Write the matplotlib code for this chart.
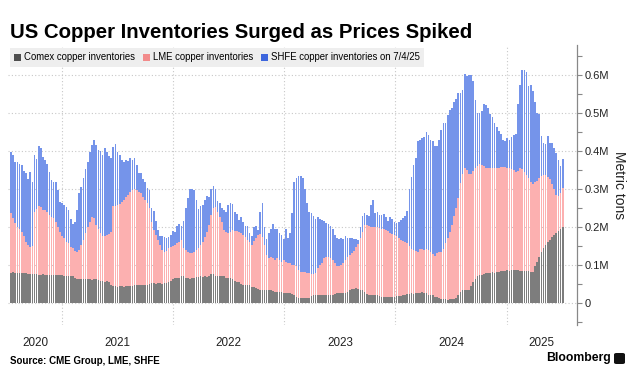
import numpy as np
import pandas as pd
import matplotlib
matplotlib.use("Agg")
import matplotlib.pyplot as plt
import matplotlib.dates as mdates
from matplotlib.patches import Patch, FancyBboxPatch

plt.rcParams["font.family"] = ["Liberation Sans", "DejaVu Sans"]

title = "US Copper Inventories Surged as Prices Spiked"
source = "Source: CME Group, LME, SHFE"
series_names = ["Comex copper inventories", "LME copper inventories",
                "SHFE copper inventories on 7/4/25"]
years = [2020, 2021, 2022, 2023, 2024, 2025]

# weekly readings (Fridays) 2020-07-17 .. 2025-07-04, thousand metric tons
weeks = pd.date_range("2020-07-17", "2025-07-04", freq="7D")

comex = [
    80, 81, 80, 80, 79, 80, 80, 79, 77, 76,
    76, 75, 76, 74, 74, 75, 74, 74, 73, 74,
    74, 74, 73, 74, 74, 72, 71, 71, 70, 70,
    66, 62, 62, 63, 62, 62, 63, 62, 61, 62,
    62, 60, 57, 57, 56, 57, 55, 48, 44, 44,
    43, 44, 44, 43, 44, 44, 45, 44, 47, 47,
    46, 47, 48, 47, 47, 49, 52, 52, 51, 52,
    52, 51, 52, 53, 54, 58, 62, 65, 66, 66,
    71, 72, 66, 65, 64, 65, 66, 69, 69, 70,
    69, 70, 69, 70, 76, 77, 72, 71, 71, 70,
    71, 66, 65, 65, 64, 58, 56, 55, 49, 47,
    47, 46, 46, 42, 41, 40, 36, 34, 34, 33,
    34, 34, 33, 31, 30, 30, 30, 29, 27, 27,
    27, 26, 24, 20, 17, 14, 12, 12, 12, 12,
    13, 18, 21, 21, 21, 22, 21, 21, 21, 22,
    21, 22, 24, 25, 25, 26, 25, 26, 30, 33,
    36, 38, 39, 37, 34, 33, 30, 24, 21, 21,
    21, 20, 21, 19, 17, 17, 17, 16, 17, 17,
    17, 18, 19, 19, 20, 22, 24, 24, 25, 24,
    26, 27, 27, 28, 27, 26, 22, 21, 20, 16,
    15, 14, 11, 10, 10, 9, 10, 10, 11, 13,
    21, 28, 33, 34, 35, 34, 45, 56, 62, 70,
    73, 74, 75, 79, 80, 80, 81, 80, 81, 82,
    84, 85, 85, 86, 85, 87, 88, 88, 86, 84,
    85, 84, 83, 84, 82, 82, 96, 109, 120, 135,
    144, 153, 160, 166, 173, 179, 185, 190, 196, 201,
]

lme = [
    158, 142, 130, 121, 117, 108, 95, 82, 76, 72,
    74, 165, 172, 182, 178, 171, 170, 166, 159, 153,
    149, 140, 128, 114, 102, 98, 90, 86, 78, 74,
    72, 73, 77, 90, 104, 121, 138, 152, 164, 161,
    143, 136, 128, 119, 120, 122, 127, 140, 210, 211,
    215, 217, 223, 228, 236, 240, 248, 253, 252, 250,
    247, 242, 232, 224, 215, 200, 162, 140, 128, 114,
    101, 88, 83, 85, 90, 90, 88, 88, 91, 95,
    95, 72, 73, 70, 68, 66, 69, 70, 75, 83,
    92, 103, 119, 135, 156, 172, 180, 169, 156, 144,
    121, 122, 120, 123, 128, 132, 134, 133, 134, 132,
    126, 120, 115, 111, 123, 130, 143, 148, 139, 120,
    92, 84, 89, 87, 83, 88, 83, 80, 86, 82,
    77, 80, 76, 80, 79, 74, 70, 70, 69, 68,
    65, 59, 55, 59, 70, 78, 85, 97, 100, 100,
    97, 90, 80, 72, 73, 74, 81, 88, 90, 93,
    96, 99, 107, 118, 136, 155, 175, 182, 181, 179,
    178, 179, 180, 179, 179, 177, 175, 174, 167, 164,
    161, 158, 153, 147, 143, 138, 133, 126, 118, 115,
    111, 108, 115, 114, 112, 116, 118, 114, 108, 108,
    116, 120, 123, 132, 148, 161, 178, 195, 219, 237,
    254, 287, 307, 321, 315, 306, 295, 292, 293, 290,
    292, 288, 285, 276, 274, 274, 274, 276, 273, 274,
    273, 273, 273, 270, 269, 265, 262, 257, 262, 270,
    267, 262, 255, 244, 236, 230, 222, 213, 208, 198,
    193, 183, 172, 159, 139, 121, 99, 92, 94, 101,
]

shfe = [
    160, 166, 162, 171, 171, 175, 173, 180, 174, 197,
    168, 149, 132, 156, 156, 138, 132, 127, 113, 96,
    96, 105, 97, 78, 86, 87, 92, 87, 74, 65,
    74, 110, 150, 153, 162, 169, 169, 184, 191, 206,
    211, 207, 215, 213, 232, 219, 205, 193, 157, 163,
    140, 128, 109, 101, 96, 90, 88, 79, 82, 66,
    48, 52, 45, 48, 40, 48, 35, 49, 36, 27,
    22, 38, 39, 34, 29, 32, 40, 35, 46, 47,
    36, 71, 111, 141, 168, 169, 163, 133, 103, 101,
    98, 99, 93, 74, 68, 58, 48, 29, 36, 36,
    53, 52, 73, 76, 68, 50, 44, 30, 42, 35,
    30, 36, 24, 23, 35, 33, 14, 58, 89, 46,
    42, 65, 72, 90, 81, 78, 70, 70, 55, 85,
    66, 77, 136, 219, 233, 245, 251, 248, 219, 182,
    162, 160, 154, 142, 134, 122, 112, 97, 90, 86,
    84, 84, 76, 75, 70, 72, 62, 62, 50, 46,
    38, 31, 22, 10, 30, 40, 31, 26, 27, 58,
    72, 39, 39, 34, 36, 40, 35, 27, 41, 39,
    36, 35, 42, 52, 60, 69, 86, 150, 188, 224,
    244, 290, 287, 291, 297, 309, 302, 293, 297, 289,
    282, 295, 321, 333, 317, 325, 320, 307, 300, 286,
    277, 237, 221, 248, 247, 260, 260, 235, 180, 141,
    134, 144, 164, 165, 159, 143, 135, 119, 110, 96,
    89, 71, 67, 77, 75, 85, 92, 101, 177, 221,
    262, 266, 270, 243, 256, 245, 212, 177, 169, 106,
    83, 82, 107, 96, 108, 107, 110, 94, 71, 76,
]

assert len(comex) == len(lme) == len(shfe) == len(weeks)

colors = ["#7d7d7d", "#fcb0b0", "#7594ea"]

x = mdates.date2num(weeks)
c = np.array(comex)
l = np.array(lme)
s = np.array(shfe)

fig = plt.figure(figsize=(6.29, 3.70), dpi=100)
ax = fig.add_axes([8 / 629, 45 / 370, 569 / 629, 280 / 370])

ax.bar(x, c, width=5.5, color=colors[0], linewidth=0, zorder=2)
ax.bar(x, l, bottom=c, width=5.5, color=colors[1], linewidth=0, zorder=2)
ax.bar(x, s, bottom=c + l, width=5.5, color=colors[2], linewidth=0, zorder=2)

xmin = mdates.date2num(pd.Timestamp("2020-07-07"))
xmax = mdates.date2num(pd.Timestamp("2025-08-20"))
ax.set_xlim(xmin, xmax)
ax.set_ylim(-58, 679)

# year boundaries as dotted grid, labels centred in the visible part of each year
bounds = [mdates.date2num(pd.Timestamp(f"{y}-01-01")) for y in years[1:]]
ax.set_xticks(bounds)
ax.set_xticklabels([])
ax.tick_params(axis="x", length=0)
ax.xaxis.grid(True, linestyle=(0, (1, 2)), color="#c8c8c8", linewidth=0.8, zorder=0)
for y in years:
    a = max(xmin, mdates.date2num(pd.Timestamp(f"{y}-01-01")))
    b = min(xmax, mdates.date2num(pd.Timestamp(f"{y + 1}-01-01")))
    ax.text((a + b) / 2, -0.064, str(y), transform=ax.get_xaxis_transform(),
            ha="center", va="center", fontsize=8.4, color="#222222")

yt = [0, 100, 200, 300, 400, 500, 600]
ax.yaxis.tick_right()
ax.set_yticks(yt)
ax.set_yticklabels(["0" if v == 0 else f"{v / 1000:.1f}M" for v in yt])
ax.set_yticks(np.arange(-50, 680, 50), minor=True)
ax.tick_params(axis="y", which="both", length=3.5, width=0.8, color="#888888",
               labelsize=8, labelcolor="#222222", pad=2)
ax.yaxis.grid(True, linestyle=(0, (1, 2)), color="#c8c8c8", linewidth=0.8, zorder=0)
ax.set_axisbelow(True)
for side in ["top", "left", "bottom"]:
    ax.spines[side].set_visible(False)
ax.spines["right"].set_color("#888888")
ax.spines["right"].set_linewidth(0.9)

ax.yaxis.set_label_position("right")
ax.set_ylabel("Metric tons", rotation=270, fontsize=10, color="#222222", labelpad=12)

handles = [Patch(facecolor=col, edgecolor="none") for col in ["#4d4d4d", "#f28b8b", "#3d66dd"]]
leg = ax.legend(handles, series_names, loc="upper left", bbox_to_anchor=(0.0035, 0.989),
                borderaxespad=0, ncol=3, fontsize=6.9, frameon=True, fancybox=False,
                handlelength=0.75, handleheight=0.75, handletextpad=0.3,
                columnspacing=0.8, borderpad=0.45)
leg.get_frame().set_facecolor("#eeeeee")
leg.get_frame().set_edgecolor("none")
leg.get_frame().set_alpha(1)

fig.text(10 / 629, 1 - 32 / 370, title, fontsize=14.7, fontweight="bold",
         ha="left", va="center", color="black")
fig.text(10 / 629, 1 - 361 / 370, source, fontsize=7, fontweight="bold",
         ha="left", va="center", color="black")
fig.text(611 / 629, 1 - 358 / 370, "Bloomberg", fontsize=8.8, fontweight="bold",
         ha="right", va="center", color="black")
logo = FancyBboxPatch((614 / 629, 1 - 364 / 370), 11 / 629, 11 / 370,
                      boxstyle="round,pad=0,rounding_size=0.004",
                      transform=fig.transFigure, facecolor="#111111", edgecolor="none")
fig.patches.append(logo)

fig.savefig("out.png", dpi=100)
